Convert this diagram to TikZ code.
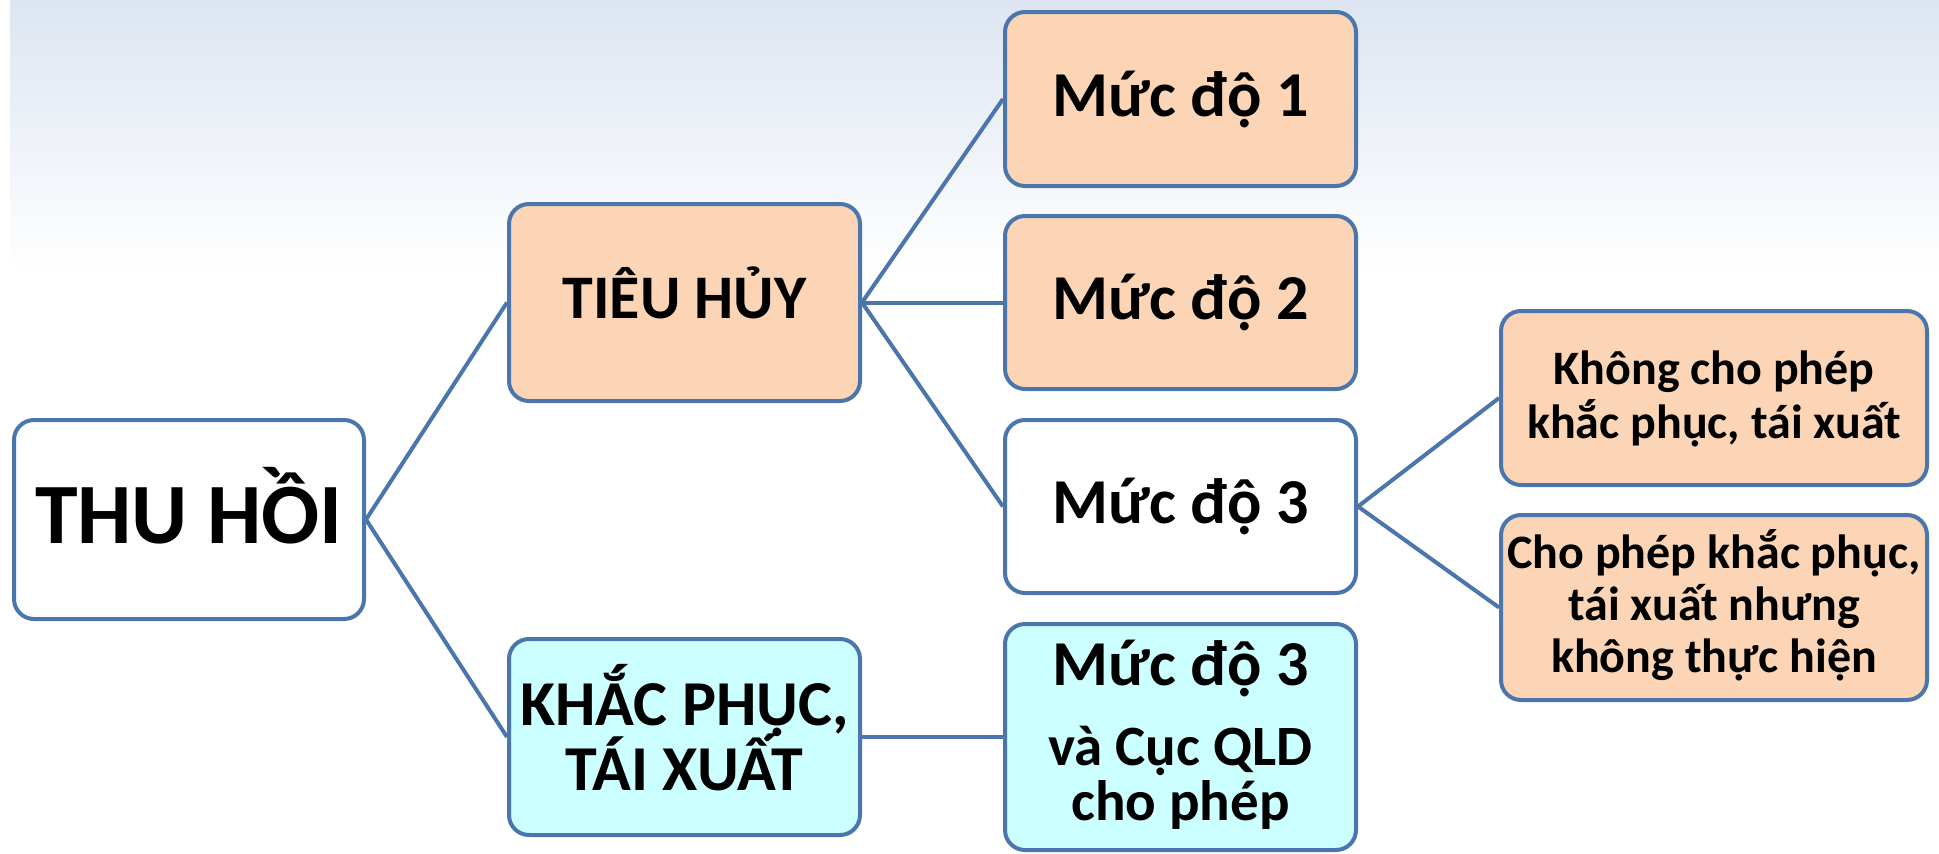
\documentclass[tikz,border=0pt]{standalone}
\usepackage{fontspec}
\setmainfont{Carlito}
\definecolor{bordercol}{HTML}{4A76AC}
\definecolor{peach}{HTML}{FBD5B5}
\definecolor{cyanfill}{HTML}{CCFFFF}
\definecolor{bgtop}{HTML}{DCE5F1}
\newcommand\topst[1]{\rule{0pt}{#1}}
\newcommand\botst[1]{\rule[-#1]{0pt}{#1}}
\newcommand\fsz[2]{\bfseries\fontsize{#1}{#2}\selectfont\lineskiplimit=-1000pt\relax}
\begin{document}
\begin{tikzpicture}[x=1pt,y=-1pt,
  box/.style={draw=bordercol, line width=4pt, rounded corners=20pt, rectangle, align=center, inner sep=0pt},
  conn/.style={draw=bordercol, line width=4pt}]
\useasboundingbox (0,0) rectangle (1939,854);
\fill[white] (0,0) rectangle (1939,854);
\shade[top color=bgtop, bottom color=white] (10,0) rectangle (1939,272);
% nodes
\node[box, fill=white, minimum width=350pt, minimum height=199pt, font=\fsz{86}{100}] (thu) at (189,519.5) {\topst{90pt}THU HỒI\botst{43pt}};
\node[box, fill=peach, minimum width=351pt, minimum height=197pt, font=\fsz{62}{74}] (tieu) at (684.5,302.5) {\topst{70pt}TIÊU HỦY\botst{39pt}};
\node[box, fill=cyanfill, minimum width=351pt, minimum height=196pt, font=\fsz{64}{65}] (khac) at (684.5,737) {\topst{75pt}KHẮC PHỤC,\\TÁI XUẤT\botst{33pt}};
\node[box, fill=peach, minimum width=351pt, minimum height=174pt, font=\fsz{64}{76}] (m1) at (1180.5,99) {\topst{70pt}Mức độ 1\botst{36pt}};
\node[box, fill=peach, minimum width=351pt, minimum height=173pt, font=\fsz{64}{76}] (m2) at (1180.5,302.5) {\topst{70pt}Mức độ 2\botst{36pt}};
\node[box, fill=white, minimum width=351pt, minimum height=173pt, font=\fsz{64}{76}] (m3) at (1180.5,506.5) {\topst{70pt}Mức độ 3\botst{36pt}};
\node[box, fill=cyanfill, minimum width=351pt, minimum height=226pt, font=\fsz{57}{55}] (m3b) at (1180.5,737) {\topst{58pt}{\fontsize{64}{76}\selectfont Mức độ 3}\\[25pt]và Cục QLD\\cho phép\botst{27pt}};
\node[box, fill=peach, minimum width=426pt, minimum height=174pt, font=\fsz{48}{54}] (khong) at (1714,398) {\topst{50pt}Không cho phép\\khắc phục, tái xuất\botst{24pt}};
\node[box, fill=peach, minimum width=426pt, minimum height=185pt, font=\fsz{48}{52}] (cho) at (1714,607.5) {\topst{50pt}Cho phép khắc phục,\\tái xuất nhưng\\không thực hiện\botst{24pt}};
% connectors
\draw[conn] (thu.east) -- (tieu.west);
\draw[conn] (thu.east) -- (khac.west);
\draw[conn] (tieu.east) -- (m1.west);
\draw[conn] (tieu.east) -- (m2.west);
\draw[conn] (tieu.east) -- (m3.west);
\draw[conn] (m3.east) -- (khong.west);
\draw[conn] (m3.east) -- (cho.west);
\draw[conn] (khac.east) -- (m3b.west);
\end{tikzpicture}
\end{document}
